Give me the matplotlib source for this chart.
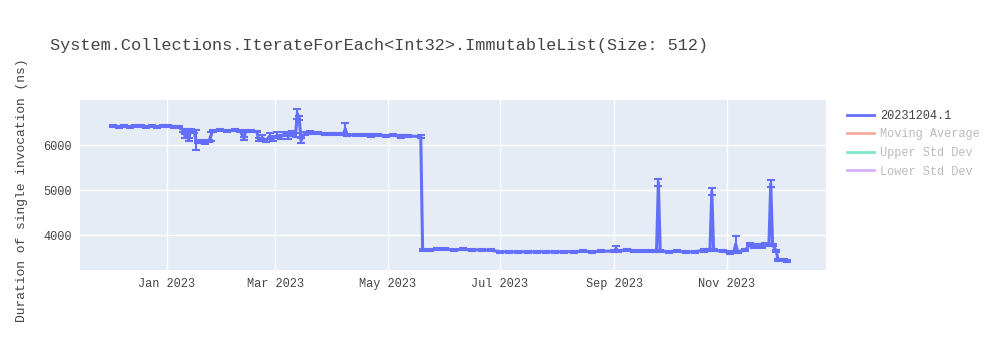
import numpy as np
import pandas as pd
import matplotlib
matplotlib.use("Agg")
import matplotlib.pyplot as plt
import matplotlib.dates as mdates
from matplotlib.lines import Line2D

plt.rcParams['font.family'] = ['Liberation Mono', 'DejaVu Sans Mono']

title = "System.Collections.IterateForEach<Int32>.ImmutableList(Size: 512)"
ylabel = "Duration of single invocation (ns)"
series_name = "20231204.1"
hidden_names = ["Moving Average", "Upper Std Dev", "Lower Std Dev"]
hidden_colors = ["#EF553B", "#00cc96", "#ab63fa"]

dates = [
    "2022-12-03", "2022-12-06", "2022-12-09", "2022-12-12", "2022-12-15",
    "2022-12-18", "2022-12-21", "2022-12-24", "2022-12-27", "2022-12-30",
    "2023-01-02", "2023-01-05", "2023-01-08", "2023-01-10", "2023-01-11",
    "2023-01-12", "2023-01-13", "2023-01-14", "2023-01-16", "2023-01-17",
    "2023-01-18", "2023-01-20", "2023-01-22", "2023-01-24", "2023-01-25",
    "2023-01-26", "2023-01-30", "2023-02-03", "2023-02-07", "2023-02-10",
    "2023-02-12", "2023-02-13", "2023-02-16", "2023-02-19", "2023-02-20",
    "2023-02-22", "2023-02-24", "2023-02-26", "2023-02-28", "2023-03-02",
    "2023-03-04", "2023-03-06", "2023-03-08", "2023-03-10", "2023-03-12",
    "2023-03-13", "2023-03-14", "2023-03-15", "2023-03-17", "2023-03-20",
    "2023-03-24", "2023-03-28", "2023-04-01", "2023-04-05", "2023-04-07",
    "2023-04-08", "2023-04-09", "2023-04-14", "2023-04-18", "2023-04-22",
    "2023-04-26", "2023-04-30", "2023-05-04", "2023-05-08", "2023-05-12",
    "2023-05-19", "2023-05-20", "2023-05-24", "2023-05-28", "2023-06-01",
    "2023-06-06", "2023-06-11", "2023-06-16", "2023-06-21", "2023-06-26",
    "2023-07-01", "2023-07-06", "2023-07-11", "2023-07-16", "2023-07-21",
    "2023-07-26", "2023-07-31", "2023-08-05", "2023-08-10", "2023-08-15",
    "2023-08-20", "2023-08-25", "2023-09-01", "2023-09-02", "2023-09-03",
    "2023-09-08", "2023-09-12", "2023-09-16", "2023-09-20", "2023-09-24",
    "2023-09-25", "2023-09-26", "2023-10-01", "2023-10-05", "2023-10-10",
    "2023-10-15", "2023-10-20", "2023-10-23", "2023-10-24", "2023-10-25",
    "2023-10-30", "2023-11-03", "2023-11-05", "2023-11-06", "2023-11-07",
    "2023-11-11", "2023-11-14", "2023-11-16", "2023-11-18", "2023-11-20",
    "2023-11-22", "2023-11-24", "2023-11-25", "2023-11-26", "2023-11-28",
    "2023-11-29", "2023-12-02", "2023-12-04",
]

values = [
    6420, 6410, 6430, 6400, 6420,
    6430, 6410, 6420, 6410, 6420,
    6430, 6410, 6400, 6330, 6200,
    6330, 6120, 6330, 6300, 6110,
    6070, 6080, 6060, 6090, 6200,
    6320, 6330, 6320, 6330, 6320,
    6150, 6320, 6310, 6300, 6120,
    6160, 6100, 6200, 6150, 6220,
    6180, 6250, 6200, 6260, 6230,
    6700, 6600, 6100, 6260, 6280,
    6260, 6250, 6240, 6250, 6240,
    6360, 6230, 6220, 6230, 6210,
    6230, 6200, 6220, 6190, 6200,
    6190, 3670, 3670, 3680, 3690,
    3670, 3680, 3670, 3670, 3660,
    3630, 3620, 3630, 3620, 3630,
    3630, 3620, 3630, 3630, 3640,
    3630, 3640, 3640, 3700, 3650,
    3670, 3650, 3640, 3650, 3650,
    5170, 3640, 3630, 3640, 3620,
    3630, 3660, 3660, 4975, 3660,
    3640, 3610, 3620, 3800, 3630,
    3660, 3800, 3740, 3780, 3740,
    3800, 3780, 5145, 3780, 3650,
    3440, 3440, 3430,
]

errors = [
    25, 25, 25, 25, 25,
    20, 20, 20, 20, 20,
    20, 20, 25, 30, 40,
    25, 40, 20, 25, 230,
    30, 30, 30, 30, 100,
    20, 20, 20, 20, 20,
    40, 20, 20, 20, 40,
    60, 40, 60, 50, 60,
    50, 50, 60, 50, 40,
    110, 50, 60, 30, 25,
    25, 25, 25, 25, 25,
    140, 25, 25, 25, 25,
    25, 25, 25, 25, 25,
    25, 25, 20, 20, 20,
    20, 20, 20, 20, 20,
    20, 20, 20, 20, 20,
    20, 20, 20, 20, 20,
    20, 20, 20, 50, 20,
    25, 20, 20, 20, 20,
    70, 20, 20, 20, 20,
    20, 30, 25, 75, 25,
    20, 25, 20, 185, 20,
    25, 30, 25, 30, 25,
    30, 30, 75, 30, 25,
    20, 20, 20,
]

x = pd.to_datetime(dates)
color = "#636efa"

fig = plt.figure(figsize=(10, 3.5), dpi=100)
ax = fig.add_axes([0.08, 0.229, 0.746, 0.485])
ax.set_facecolor("#e5ecf6")

ax.errorbar(x, values, yerr=errors, color=color, linewidth=2.2,
            elinewidth=1.5, capsize=3, capthick=1.5, zorder=3)

ax.set_ylim(3225, 7000)
ax.set_xlim(pd.Timestamp("2022-11-15"), pd.Timestamp("2023-12-25"))
ax.set_yticks([4000, 5000, 6000])
ax.xaxis.set_major_locator(mdates.MonthLocator(bymonth=[1, 3, 5, 7, 9, 11]))
ax.xaxis.set_major_formatter(mdates.DateFormatter("%b %Y"))
ax.grid(True, color="white", linewidth=1)
ax.set_axisbelow(True)
for s in ax.spines.values():
    s.set_visible(False)
ax.tick_params(length=0, labelsize=8.6, labelcolor="#444", pad=6)

fig.text(0.05, 0.87, title, fontsize=12.2, color="#444", va="center")
fig.text(0.022, 0.455, ylabel, fontsize=9.4, color="#444", rotation=90,
         va="center", ha="center")

handles = [Line2D([], [], color=color, linewidth=2)]
labels = [series_name]
for n, c in zip(hidden_names, hidden_colors):
    handles.append(Line2D([], [], color=c, linewidth=2, alpha=0.5))
    labels.append(n)
leg = fig.legend(handles, labels, loc="upper left", bbox_to_anchor=(0.836, 0.717),
                 frameon=False, fontsize=8.6, handlelength=2.3,
                 handletextpad=0.5, labelspacing=0.55)
for i, t in enumerate(leg.get_texts()):
    t.set_color("#444" if i == 0 else "#bbbbbb")

fig.savefig("out.png", dpi=100)
